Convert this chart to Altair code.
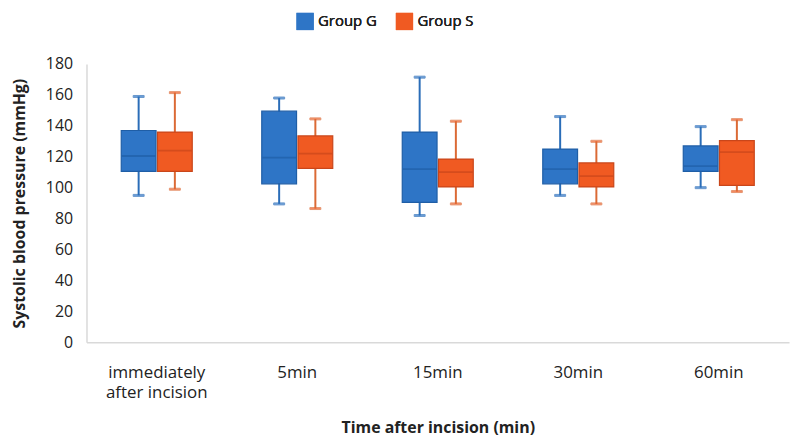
import altair as alt
import pandas as pd

categories = ["immediately after incision", "5min", "15min", "30min", "60min"]
groups = ["Group G", "Group S"]

g_low = [95, 89.5, 82, 95, 100]
g_q1 = [110.5, 102.5, 90.5, 102.5, 110.5]
g_med = [120.5, 119.5, 112, 112, 114]
g_q3 = [137, 149.5, 136, 125, 127]
g_high = [159, 158, 171.5, 146, 139.5]

s_low = [99, 86.5, 89.5, 89.5, 97.5]
s_q1 = [110.5, 112.5, 100.5, 100.5, 101.5]
s_med = [124, 122, 110, 107.5, 123]
s_q3 = [136, 133.5, 118.5, 116, 130.5]
s_high = [161.5, 144.5, 143, 130, 144]

fill_colors = ["#2E75C6", "#F05A22"]
dark_colors = ["#1F5EA6", "#C9461A"]
whisker_colors = ["#2A6DB8", "#DB6A35"]
y_ticks = [0, 20, 40, 60, 80, 100, 120, 140, 160, 180]

rows = []
for i, c in enumerate(categories):
    rows.append(dict(time=c, group=groups[0], low=g_low[i], q1=g_q1[i], med=g_med[i], q3=g_q3[i], high=g_high[i]))
    rows.append(dict(time=c, group=groups[1], low=s_low[i], q1=s_q1[i], med=s_med[i], q3=s_q3[i], high=s_high[i]))
df = pd.DataFrame(rows)

FONT = "Open Sans"

x = alt.X(
    "time:N",
    sort=categories,
    scale=alt.Scale(paddingInner=0, paddingOuter=0),
    axis=alt.Axis(
        title="Time after incision (min)",
        labelAngle=0,
        labelExpr="datum.value == 'immediately after incision' ? ['immediately', 'after incision'] : datum.value",
        labelFontSize=17,
        labelPadding=22,
        labelLineHeight=21,
        labelColor="#222222",
        titleFontSize=16,
        titleFontWeight="bold",
        titlePadding=19,
        titleColor="#222222",
    ),
)
xoff = alt.XOffset("group:N", sort=groups, scale=alt.Scale(paddingInner=0.04, paddingOuter=0.96))
ysc = alt.Scale(domain=[0, 180], nice=False)
yaxis = alt.Axis(
    title="Systolic blood pressure (mmHg)",
    values=y_ticks,
    labelOverlap=False,
    labelFontSize=16,
    labelPadding=14,
    labelColor="#222222",
    titleFontSize=16,
    titleFontWeight="bold",
    titlePadding=18,
    titleColor="#222222",
)

fill = alt.Color(
    "group:N",
    sort=groups,
    scale=alt.Scale(domain=groups, range=fill_colors),
    legend=alt.Legend(
        title=None,
        orient="none",
        direction="horizontal",
        legendX=211,
        legendY=-52,
        symbolType="square",
        symbolSize=300,
        symbolStrokeWidth=0,
        labelFontSize=15,
        labelColor="#222222",
        columnPadding=18,
    ),
)
dark = alt.Stroke("group:N", sort=groups, scale=alt.Scale(domain=groups, range=dark_colors), legend=None)
wcol = alt.Stroke("group:N", sort=groups, scale=alt.Scale(domain=groups, range=whisker_colors), legend=None)

base = alt.Chart(df).encode(x=x, xOffset=xoff)

whisker = base.mark_rule(strokeWidth=2).encode(
    y=alt.Y("low:Q", scale=ysc, axis=yaxis), y2="high:Q", stroke=wcol
)
cap_low = base.mark_tick(size=11, thickness=2).encode(y=alt.Y("low:Q", scale=ysc, axis=yaxis), stroke=wcol, color=fill)
cap_high = base.mark_tick(size=11, thickness=2).encode(y=alt.Y("high:Q", scale=ysc, axis=yaxis), stroke=wcol, color=fill)
box = base.mark_bar(size=35, strokeWidth=1.2).encode(
    y=alt.Y("q1:Q", scale=ysc, axis=yaxis), y2="q3:Q", color=fill, stroke=dark
)
median = base.mark_tick(size=34, thickness=1.8).encode(
    y=alt.Y("med:Q", scale=ysc, axis=yaxis),
    color=alt.Color("group:N", sort=groups, scale=alt.Scale(domain=groups, range=dark_colors), legend=None),
)

chart = (
    alt.layer(whisker, cap_low, cap_high, box, median)
    .resolve_scale(color="independent", stroke="independent")
    .properties(width=707, height=280, padding={"left": 3, "top": 3, "right": 3, "bottom": 3})
    .configure(font=FONT)
    .configure_view(stroke=None)
    .configure_axis(domainColor="#D9D9D9", domainWidth=1.5, ticks=False, grid=False)
    .configure_axisY(labelOverlap=False)
)

chart.save("out.html", embed_options={"renderer": "svg", "actions": False})
